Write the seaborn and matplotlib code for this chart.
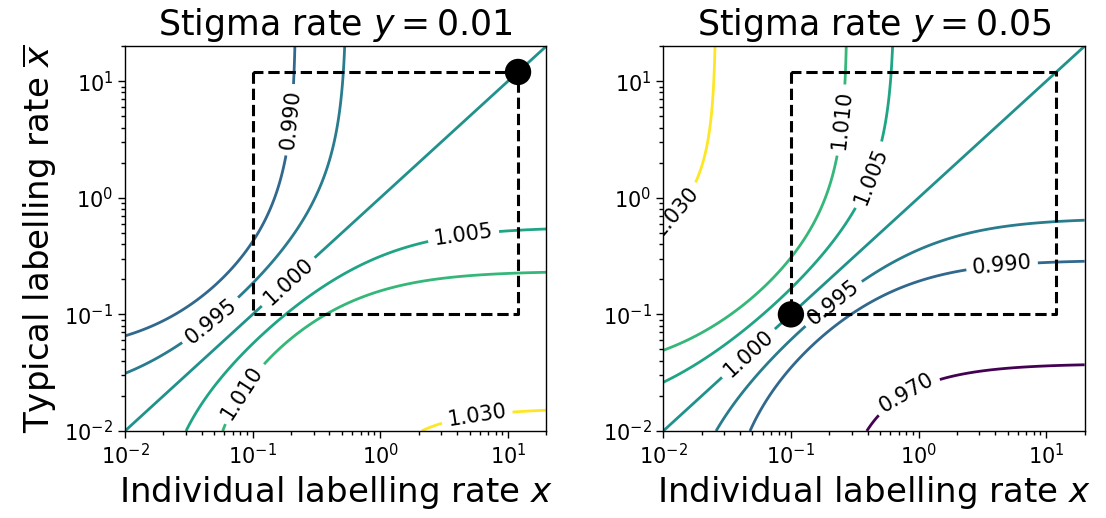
import numpy as np
import matplotlib
matplotlib.use("Agg")
import matplotlib.pyplot as plt
import seaborn as sns

# Stigma rate of each panel
stigma_rates = [0.01, 0.05]
panel_titles = [r"Stigma rate $y = 0.01$", r"Stigma rate $y = 0.05$"]

# Relative-fitness levels that are contoured
contour_levels = [0.970, 0.990, 0.995, 1.000, 1.005, 1.010, 1.030]

# Fitness-landscape coefficients for each stigma rate
strength = [0.048702, -0.040481]      # overall selection strength
half_sat = [0.060604, 0.102121]       # labelling rate of half saturation
sat_power = [1.10082, 0.905524]       # saturation exponent
hill_coef = [0.987544, 1.013175]      # Hill coefficient of the benefit curve
curvature = [0.4973, 0.05258]         # non-linearity of the fitness difference
resident_mod = [-0.53734, 0.016989]   # resident-dependent modulation
resident_scale = [0.098254, 1.524323]

# Range of labelling rates and the allowed trait window
rate_min, rate_max = 0.01, 20.0
window = [0.1, 12.0]
# Singular strategy of each panel (x, x_bar)
singular_x = [12.0, 0.1]
singular_xbar = [12.0, 0.1]

# Contour-label anchors per panel
label_pos = [
    [(0.203, 4.65), (0.0464, 0.0895), (0.19, 0.19), (4.5, 0.46), (0.085, 0.021), (5.7, 0.0137)],
    [(0.0112, 0.85), (0.243, 4.65), (0.41, 1.57), (0.046, 0.047), (0.209, 0.129), (4.5, 0.266), (0.81, 0.021)],
]


def benefit(v, i):
    return (v ** hill_coef[i] / (v ** hill_coef[i] + half_sat[i])) ** sat_power[i]


def relative_fitness(x, xbar, i):
    d = benefit(x, i) - benefit(xbar, i)
    mod = 1 + resident_mod[i] * resident_scale[i] / (xbar + resident_scale[i])
    return 1 + strength[i] * mod * (d + curvature[i] * d * d)


sns.set_theme(style="ticks", rc={
    "axes.edgecolor": "black", "xtick.color": "black", "ytick.color": "black",
    "text.color": "black", "axes.labelcolor": "black", "axes.linewidth": 1.0,
    "xtick.major.size": 5, "ytick.major.size": 5, "xtick.minor.size": 3, "ytick.minor.size": 3,
    "xtick.major.width": 1.0, "ytick.major.width": 1.0,
})
plt.rcParams["font.family"] = ["DejaVu Sans"]

fig = plt.figure(figsize=(11.06, 5.18), dpi=100)
axes = [fig.add_axes([0.113, 0.168, 0.381, 0.743]),
        fig.add_axes([0.5997, 0.168, 0.381, 0.743])]

grid = np.logspace(np.log10(rate_min), np.log10(rate_max), 500)
X, XB = np.meshgrid(grid, grid)

for i, ax in enumerate(axes):
    ax.set_xscale("log")
    ax.set_yscale("log")
    ax.set_xlim(rate_min, rate_max)
    ax.set_ylim(rate_min, rate_max)
    Z = relative_fitness(X, XB, i)
    cs = ax.contour(X, XB, Z, levels=contour_levels, cmap="viridis",
                    vmin=contour_levels[0], vmax=contour_levels[-1], linewidths=2.0)
    labels = ax.clabel(cs, fmt="%.3f", colors="black", fontsize=15, manual=label_pos[i], inline_spacing=6)
    for t in labels:
        t.set_color("black")
        t.set_clip_on(True)
        t.set_clip_path(ax.patch)

    lo, hi = window
    ax.plot([lo, lo, hi, hi, lo], [hi, lo, lo, hi, hi], color="black", ls="--", lw=2.2, zorder=3)
    sns.scatterplot(x=[singular_x[i]], y=[singular_xbar[i]], ax=ax, color="black",
                    s=360, edgecolor="none", zorder=5, clip_on=False, legend=False)

    ax.set_title(panel_titles[i], fontsize=25, pad=8)
    ax.set_xlabel(r"Individual labelling rate $x$", fontsize=24.5)
    ax.tick_params(axis="both", which="major", labelsize=15)
    for sp in ax.spines.values():
        sp.set_visible(True)

axes[0].set_ylabel(r"Typical labelling rate $\overline{x}$", fontsize=24.5)

fig.savefig("out.png", dpi=100)
